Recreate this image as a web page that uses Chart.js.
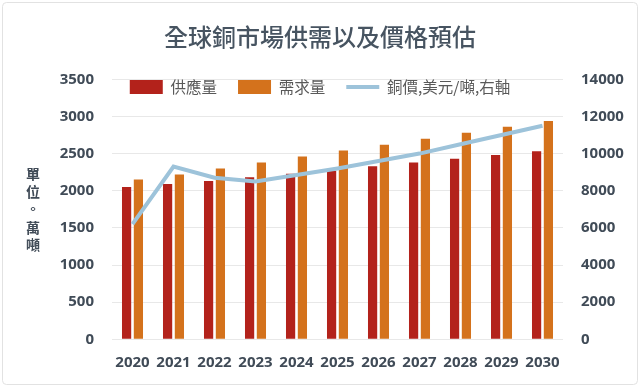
<!DOCTYPE html>
<html>
<head>
<meta charset="utf-8">
<script src="https://cdn.jsdelivr.net/npm/chart.js@4/dist/chart.umd.min.js"></script>
<style>
  html, body { margin: 0; padding: 0; background: #ffffff; }
  #wrap { position: relative; width: 640px; height: 387px; }
</style>
</head>
<body>
<div id="wrap"><canvas id="c" width="640" height="387"></canvas></div>
<script>
// ---- data ----
const years = ['2020','2021','2022','2023','2024','2025','2026','2027','2028','2029','2030'];
const supply = [2050, 2090, 2130, 2180, 2230, 2270, 2330, 2380, 2430, 2480, 2530];
const demand = [2150, 2220, 2300, 2380, 2460, 2540, 2620, 2700, 2780, 2860, 2940];
const price  = [6200, 9300, 8700, 8500, 8850, 9200, 9600, 10000, 10500, 11000, 11500];
const seriesNames = ['供應量', '需求量', '銅價,美元/噸,右軸'];
const titleText = '全球銅市場供需以及價格預估';
const unitChars = ['單', '位', '。', '萬', '噸'];

const CJK = '"Noto Sans CJK TC", "Noto Sans CJK SC", sans-serif';
const NUM = '"Open Sans", "Noto Sans", sans-serif';
const TICK_COLOR = '#404b57';

const framePlugin = {
  id: 'frame',
  beforeDraw(chart) {
    const ctx = chart.ctx;
    ctx.save();
    ctx.fillStyle = '#ffffff';
    ctx.fillRect(0, 0, chart.width, chart.height);
    ctx.strokeStyle = '#e2e2e2';
    ctx.lineWidth = 1;
    ctx.beginPath();
    ctx.roundRect(2.5, 2.5, chart.width - 5, chart.height - 5, 4);
    ctx.stroke();
    ctx.restore();
  },
  afterDraw(chart) {
    const ctx = chart.ctx;
    ctx.save();
    ctx.fillStyle = TICK_COLOR;
    ctx.font = 'bold 14px ' + CJK;
    ctx.textAlign = 'center';
    ctx.textBaseline = 'middle';
    const ys = [174, 192, 209, 228, 245];
    unitChars.forEach((ch, i) => ctx.fillText(ch, 33, ys[i]));
    ctx.restore();
  }
};

const legendPlugin = {
  id: 'legendShift',
  afterInit(chart) {
    const lg = chart.legend;
    if (lg && !lg._patched) {
      const orig = lg.fit.bind(lg);
      lg.fit = function () { orig(); this._realHeight = this.height; this.height = 0; };
      lg._patched = true;
    }
  },
  afterLayout(chart) {
    const lg = chart.legend;
    if (lg) {
      const pad = lg.options.labels.padding;
      const fs = lg.options.labels.font.size;
      const top = 87 - fs / 2 - pad;
      const h = lg._realHeight || (fs + 2 * pad);
      lg.top = top;
      lg.height = h;
      lg.bottom = top + h;
    }
  }
};

const plain = v => String(v);

new Chart(document.getElementById('c'), {
  data: {
    labels: years,
    datasets: [
      { type: 'line', label: seriesNames[2], data: price, yAxisID: 'y2',
        borderColor: '#9dc3da', backgroundColor: '#9dc3da', borderWidth: 4,
        pointRadius: 0, tension: 0, order: 0 },
      { type: 'bar', label: seriesNames[0], data: supply, yAxisID: 'y',
        backgroundColor: '#b3221b', borderWidth: 0,
        categoryPercentage: 0.576, barPercentage: 0.78, order: 1 },
      { type: 'bar', label: seriesNames[1], data: demand, yAxisID: 'y',
        backgroundColor: '#d4721c', borderWidth: 0,
        categoryPercentage: 0.576, barPercentage: 0.78, order: 1 }
    ]
  },
  options: {
    responsive: false,
    animation: false,
    devicePixelRatio: 1,
    layout: { padding: 0 },
    plugins: {
      title: {
        display: true, text: titleText,
        color: '#475461',
        font: { family: CJK, size: 24, weight: '500', lineHeight: 1.2 },
        padding: { top: 22.4, bottom: 28.1 }
      },
      legend: {
        display: true, position: 'top',
        labels: {
          usePointStyle: true,
          pointStyleWidth: 33,
          boxHeight: 14.1,
          padding: 21,
          color: '#595959',
          font: { family: CJK, size: 15.5 },
          sort: (a, b) => {
            const rank = { 1: 0, 2: 1, 0: 2 };
            return rank[a.datasetIndex] - rank[b.datasetIndex];
          },
          generateLabels(chart) {
            const items = Chart.defaults.plugins.legend.labels.generateLabels(chart);
            items.forEach(it => {
              if (it.datasetIndex === 0) {
                it.pointStyle = 'line';
                it.lineWidth = 4;
                it.strokeStyle = '#9dc3da';
              } else {
                it.pointStyle = 'rect';
                it.lineWidth = 0;
              }
            });
            return items;
          }
        }
      },
      tooltip: { enabled: false }
    },
    scales: {
      x: {
        grid: { display: false, drawTicks: false },
        border: { display: false },
        ticks: { color: TICK_COLOR, padding: 14, maxRotation: 0,
          font: { family: NUM, size: 15, weight: 'bold' } },
        afterFit(s) { s.height = 47.7; }
      },
      y: {
        position: 'left', min: 0, max: 3500,
        grid: { color: '#e8e8e8', lineWidth: 1, drawTicks: false },
        border: { display: false },
        ticks: { stepSize: 500, color: TICK_COLOR, padding: 18, callback: plain,
          font: { family: NUM, size: 15, weight: 'bold' } },
        afterFit(s) { s.width = 112; }
      },
      y2: {
        position: 'right', min: 0, max: 14000,
        grid: { display: false, drawTicks: false },
        border: { display: false },
        ticks: { stepSize: 2000, color: TICK_COLOR, padding: 18, callback: plain,
          font: { family: NUM, size: 15, weight: 'bold' } },
        afterFit(s) { s.width = 77; }
      }
    }
  },
  plugins: [framePlugin, legendPlugin]
});
</script>
</body>
</html>
